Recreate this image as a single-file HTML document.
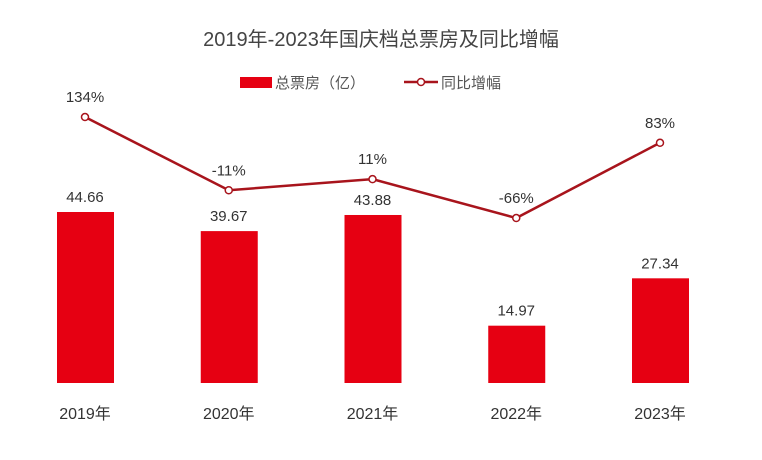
<!DOCTYPE html>
<html><head><meta charset="utf-8"><style>
body{margin:0;background:#fff;}
svg{display:block;font-family:"Liberation Sans","Noto Sans CJK SC",sans-serif;}
</style></head><body>
<svg id="c" width="762" height="460">
<rect width="762" height="460" fill="#fff"/>
<text x="381" y="46" text-anchor="middle" font-size="20" fill="#444">2019年-2023年国庆档总票房及同比增幅</text>
<g>
<rect x="240" y="77" width="32" height="11" fill="#e60012"/>
<text x="275" y="88" font-size="15" fill="#555">总票房（亿）</text>
</g>
<g>
<line x1="404" y1="82" x2="438" y2="82" stroke="#a8141c" stroke-width="2.5"/>
<circle cx="421" cy="82" r="3.5" fill="#fff" stroke="#a8141c" stroke-width="1.5"/>
<text x="441" y="88" font-size="15" fill="#555">同比增幅</text>
</g>
<g id="bars"></g><g id="line"></g><g id="xl"></g>
</svg>
<script>
const categories=["2019年","2020年","2021年","2022年","2023年"];
const boxOffice=[44.66,39.67,43.88,14.97,27.34];
const growth=[134,-11,11,-66,83];
const growthLabels=["134%","-11%","11%","-66%","83%"];
const ns="http://www.w3.org/2000/svg";
const base=383, k=171/44.66;
const x=i=>85+i*143.75;
const yb=v=>base-v*k;
const yg=v=>184.7-v*0.505;
function el(t,a,p,txt){const e=document.createElementNS(ns,t);for(const q in a)e.setAttribute(q,a[q]);if(txt!=null)e.textContent=txt;document.getElementById(p).appendChild(e);return e;}
boxOffice.forEach((v,i)=>{
 const r=el('rect',{x:x(i)-28,y:yb(v),width:57,height:base-yb(v),fill:'#e60012'},'bars');
 
 
 const t=el('text',{x:x(i),y:yb(v)-10,'text-anchor':'middle','font-size':15,fill:'#333'},'bars',v.toFixed(2));
 
 
 const c=el('text',{x:x(i),y:419,'text-anchor':'middle','font-size':16,fill:'#333'},'xl',categories[i]);
 
 
});
const pl=el('polyline',{points:growth.map((v,i)=>x(i)+','+yg(v)).join(' '),fill:'none',stroke:'#a8141c','stroke-width':2.5},'line');


growth.forEach((v,i)=>{
 const c=el('circle',{cx:x(i),cy:yg(v),r:3.5,fill:'#fff',stroke:'#a8141c','stroke-width':1.5},'line');
 
 
 const t=el('text',{x:x(i),y:yg(v)-15,'text-anchor':'middle','font-size':15,fill:'#333'},'line',growthLabels[i]);
 
 
});
</script>
</body></html>
